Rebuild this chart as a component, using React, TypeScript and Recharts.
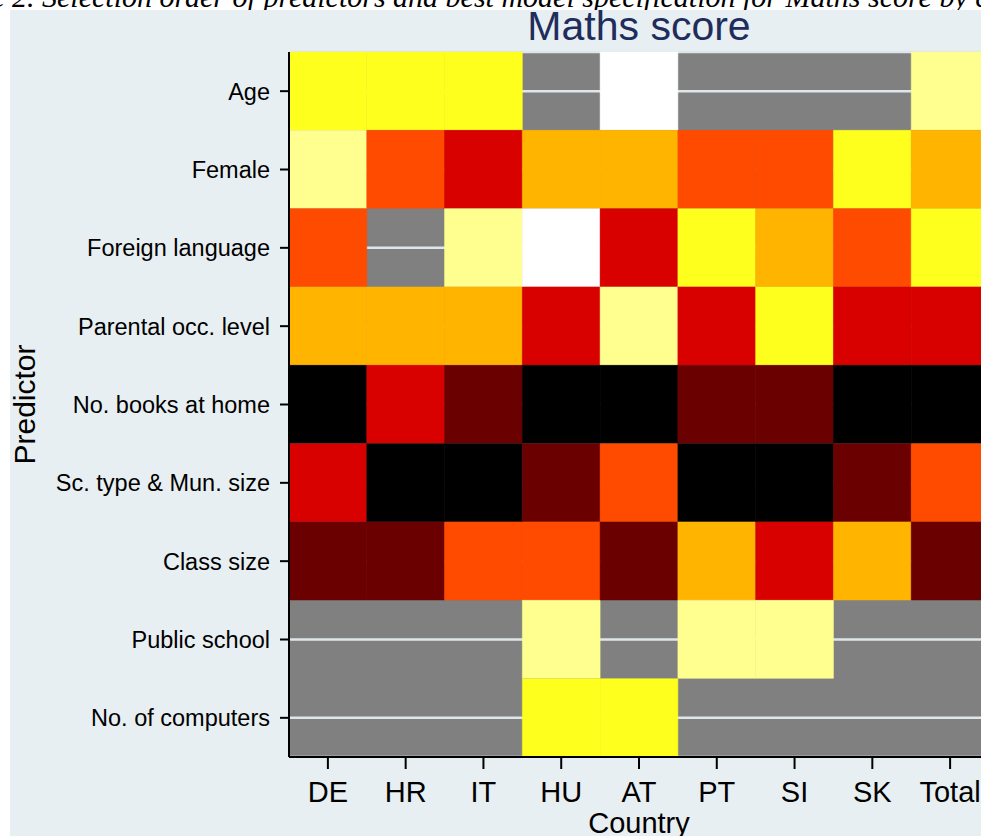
import React from "react";
import { BarChart, Bar, Cell, XAxis, YAxis, CartesianGrid } from "recharts";

const predictors = [
  "Age",
  "Female",
  "Foreign language",
  "Parental occ. level",
  "No. books at home",
  "Sc. type & Mun. size",
  "Class size",
  "Public school",
  "No. of computers",
];

const countries = ["DE", "HR", "IT", "HU", "AT", "PT", "SI", "SK", "Total"];

// selection order per country, same order as predictors (null = not selected)
const orderDE = [6, 7, 4, 5, 1, 3, 2, null, null];
const orderHR = [6, 4, null, 5, 3, 1, 2, null, null];
const orderIT = [6, 3, 7, 5, 2, 1, 4, null, null];
const orderHU = [null, 5, 8, 3, 1, 2, 4, 7, 6];
const orderAT = [8, 5, 3, 7, 1, 4, 2, null, 6];
const orderPT = [null, 4, 6, 3, 2, 1, 5, 7, null];
const orderSI = [null, 4, 5, 6, 2, 1, 3, 7, null];
const orderSK = [null, 6, 4, 3, 1, 2, 5, null, null];
const orderTotal = [7, 5, 6, 3, 1, 4, 2, null, null];

const orders: Record<string, (number | null)[]> = {
  DE: orderDE,
  HR: orderHR,
  IT: orderIT,
  HU: orderHU,
  AT: orderAT,
  PT: orderPT,
  SI: orderSI,
  SK: orderSK,
  Total: orderTotal,
};

const rankColors = [
  "#000000",
  "#6b0000",
  "#d90000",
  "#ff4b00",
  "#ffb400",
  "#ffff1e",
  "#ffff8f",
  "#ffffff",
];

const colorFor = (rank: number | null) =>
  rank == null ? "transparent" : rankColors[rank - 1];

const rows = predictors.map((p) => {
  const row: Record<string, string | number> = { predictor: p };
  countries.forEach((c) => {
    row[c] = 1;
  });
  return row;
});

const SANS = "'Liberation Sans', Arial, sans-serif";

export default function App() {
  return (
    <div
      style={{
        position: "absolute",
        left: 0,
        top: 0,
        width: 981,
        height: 836,
        overflow: "hidden",
        background: "#ffffff",
      }}
    >
      <div
        style={{
          position: "absolute",
          left: -76,
          top: -18,
          whiteSpace: "nowrap",
          fontFamily: "'Liberation Serif', 'Times New Roman', serif",
          fontStyle: "italic",
          fontSize: 30,
          lineHeight: 1,
          color: "#000",
        }}
      >
        Figure 2. Selection order of predictors and best model specification for Maths score by country
      </div>
      <div
        style={{
          position: "absolute",
          left: 10,
          top: 10,
          width: 971,
          height: 826,
          background: "#e8eff2",
        }}
      />
      <div
        style={{
          position: "absolute",
          left: 289,
          width: 700,
          top: 6,
          textAlign: "center",
          fontFamily: SANS,
          fontSize: 41,
          lineHeight: 1,
          color: "#1f2d5c",
        }}
      >
        Maths score
      </div>
      <div style={{ position: "absolute", left: 0, top: 0 }}>
        <BarChart
          width={1000}
          height={900}
          data={rows}
          layout="vertical"
          barCategoryGap={0}
          barGap={0}
          margin={{ top: 52, right: 11, left: 0, bottom: 63 }}
        >
          <CartesianGrid
            vertical={false}
            fill="#808080"
            fillOpacity={1}
            stroke="#dfe6e9"
            strokeWidth={2.5}
          />
          <XAxis
            type="number"
            domain={[0, countries.length]}
            ticks={countries.map((_, i) => i + 0.5)}
            tickFormatter={(v: number) => countries[Math.floor(v)]}
            interval={0}
            height={80}
            tickSize={12}
            tickMargin={12}
            tick={{ fill: "#000", fontSize: 29, fontFamily: SANS }}
            axisLine={{ stroke: "#000", strokeWidth: 2 }}
            tickLine={{ stroke: "#000", strokeWidth: 2 }}
            label={{
              value: "Country",
              position: "insideTop",
              offset: 55,
              style: { fill: "#000", fontSize: 29, fontFamily: SANS },
            }}
          />
          <YAxis
            type="category"
            dataKey="predictor"
            width={289}
            interval={0}
            tickSize={9}
            tickMargin={10}
            tick={{ fill: "#000", fontSize: 23.5, fontFamily: SANS }}
            axisLine={{ stroke: "#000", strokeWidth: 2 }}
            tickLine={{ stroke: "#000", strokeWidth: 2 }}
            label={{
              value: "Predictor",
              angle: -90,
              position: "insideLeft",
              offset: 24,
              style: {
                textAnchor: "middle",
                fill: "#000",
                fontSize: 30,
                fontFamily: SANS,
              },
            }}
          />
          {countries.map((c) => (
            <Bar key={c} dataKey={c} stackId="s" isAnimationActive={false}>
              {predictors.map((p, i) => (
                <Cell
                  key={p}
                  fill={colorFor(orders[c][i])}
                  stroke={colorFor(orders[c][i])}
                  strokeWidth={0.5}
                />
              ))}
            </Bar>
          ))}
        </BarChart>
      </div>
    </div>
  );
}
